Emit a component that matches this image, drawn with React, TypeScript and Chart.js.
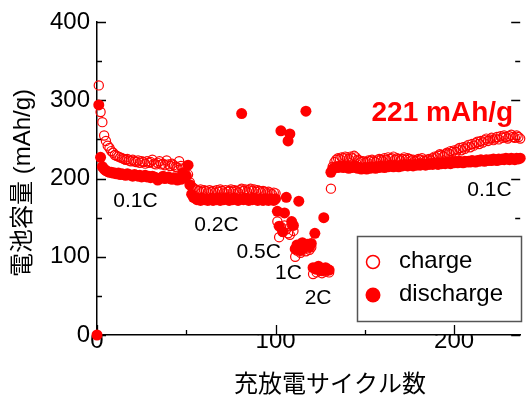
import { useEffect, useRef } from 'react';
import { Chart, registerables } from 'chart.js';

Chart.register(...registerables);

// ---- data (capacity in mAh/g per cycle) ----
const chargeStartCycle = 1;
const dischargeStartCycle = 0;

// 0.1C, cycles 1-50
const charge01a = [319, 285, 272, 255, 248, 242, 239, 235, 233, 230, 229, 228, 227, 226, 225, 224, 225, 223, 222, 224, 222, 221, 223, 220, 222, 221, 219, 222, 220, 221, 224, 219, 218, 220, 222, 218, 219, 217, 223, 218, 216, 219, 217, 215, 214, 222, 216, 213, 208, 204];
// 0.1C, cycles 0-50
const discharge01a = [0, 294, 227, 215, 212, 210, 209, 208, 208, 207, 207, 206, 207, 205, 206, 205, 204, 206, 205, 204, 203, 205, 204, 203, 204, 202, 203, 204, 202, 203, 201, 203, 202, 201, 198, 200, 201, 203, 200, 201, 202, 200, 199, 201, 200, 198, 200, 199, 207, 204, 203];
// 0.2C, cycles 51-100
const charge02 = [205, 195, 190, 188, 186, 185, 184, 186, 183, 185, 184, 182, 185, 183, 184, 182, 185, 183, 186, 184, 182, 185, 183, 184, 186, 183, 185, 184, 182, 185, 187, 184, 186, 183, 185, 187, 184, 186, 183, 185, 184, 182, 184, 183, 181, 183, 182, 180, 182, 181];
const discharge02 = [217, 192, 180, 176, 175, 173, 174, 172, 175, 173, 174, 172, 173, 175, 172, 174, 173, 175, 172, 174, 173, 175, 174, 172, 174, 173, 175, 174, 172, 174, 283, 173, 175, 174, 172, 174, 173, 175, 174, 172, 174, 173, 172, 174, 173, 172, 174, 173, 172, 174];
// 0.5C, cycles 101-110
const charge05 = [145, 125, 138, 132, 140, 135, 130, 128, 141, 133];
const discharge05 = [158, 139, 261, 132, 156, 176, 248, 257, 145, 140];
// 1C, cycles 111-120
const charge1 = [100, 108, 112, 105, 110, 114, 107, 111, 109, 112];
const discharge1 = [110, 115, 171, 108, 118, 112, 286, 116, 113, 117];
// 2C, cycles 121-130
const charge2 = [78, 85, 80, 84, 82, 79, 83, 81, 84, 80];
const discharge2 = [86, 130, 84, 88, 85, 82, 150, 86, 84, 83];
// 0.1C, cycles 131-240
const charge01b = [
  187, 215, 221, 224, 226, 225, 227, 226, 228, 227,
  225, 228, 226, 229, 227, 224, 223, 221, 222, 220,
  221, 223, 222, 224, 222, 221, 223, 225, 224, 222,
  226, 224, 227, 225, 226, 228, 224, 226, 225, 223,
  225, 227, 224, 226, 225, 223, 224, 222, 223, 225,
  224, 226, 223, 222, 224, 225, 223, 226, 228, 227,
  229, 231, 230, 228, 231, 233, 232, 235, 234, 236,
  234, 237, 239, 236, 240, 238, 241, 243, 240, 244,
  242, 245, 247, 244, 248, 246, 249, 251, 248, 250,
  252, 249, 251, 253, 250, 254, 252, 255, 253, 251,
  254, 256, 253, 252, 255, 253, 251, 254, 252, 253,
];
const discharge01b = [
  208, 212, 214, 215, 214, 216, 215, 214, 216, 215,
  213, 215, 214, 216, 215, 213, 214, 212, 213, 214,
  212, 214, 213, 215, 214, 213, 215, 214, 216, 215,
  214, 216, 215, 217, 216, 215, 217, 216, 215, 217,
  216, 218, 217, 216, 218, 217, 216, 218, 217, 218,
  217, 219, 218, 217, 219, 218, 219, 218, 220, 219,
  218, 220, 219, 220, 219, 221, 220, 219, 221, 220,
  221, 220, 222, 221, 220, 222, 221, 222, 221, 223,
  222, 221, 223, 222, 224, 223, 222, 224, 223, 224,
  223, 225, 224, 223, 225, 224, 225, 224, 226, 225,
  224, 226, 225, 224, 226, 225, 226, 225, 224, 226,
];

const chargeBlocks = [charge01a, charge02, charge05, charge1, charge2, charge01b];
const dischargeBlocks = [discharge01a, discharge02, discharge05, discharge1, discharge2, discharge01b];

// rate labels and their anchor (data coordinates)
const rateLabels = ['0.1C', '0.2C', '0.5C', '1C', '2C', '0.1C'];
const rateLabelX = [21.5, 66.9, 90.6, 107.2, 123.8, 219.8];
const rateLabelY = [171, 140.6, 106, 79, 47, 185];
const highlightText = '221 mAh/g';
const highlightAt = [193.4, 283.7];

const legendLabels = ['charge', 'discharge'];
const xTitle = '充放電サイクル数';
const yTitle = '電池容量 (mAh/g)';

const X_MIN = 0;
const X_MAX = 237;
const Y_MIN = 0;
const Y_MAX = 400;

const RED = '#ff0000';
const FONT = "'Liberation Sans', Arial, sans-serif";
const CJK_FONT = "'Liberation Sans', 'Noto Sans CJK JP', sans-serif";

function toPoints(start: number, blocks: number[][]) {
  const out: { x: number; y: number }[] = [];
  let c = start;
  for (const b of blocks) {
    for (const v of b) {
      out.push({ x: c, y: v });
      c++;
    }
  }
  return out;
}

const decorPlugin = {
  id: 'decor',
  beforeDatasetsDraw(chart: any) {
    const { ctx, chartArea, scales } = chart;
    const xs = scales.x;
    const ys = scales.y;
    ctx.save();
    ctx.strokeStyle = '#000';
    ctx.lineWidth = 1.3;
    ctx.beginPath();
    for (let v = 0; v <= 200; v += 50) {
      const px = Math.round(xs.getPixelForValue(v)) + 0.5;
      const len = v % 100 === 0 ? 10 : 5;
      ctx.moveTo(px, chartArea.bottom);
      ctx.lineTo(px, chartArea.bottom - len);
    }
    for (let v = 0; v <= 400; v += 50) {
      const py = Math.round(ys.getPixelForValue(v)) + 0.5;
      const len = v % 100 === 0 ? 9 : 5;
      ctx.moveTo(chartArea.left, py);
      ctx.lineTo(chartArea.left + len, py);
      ctx.moveTo(chartArea.right, py);
      ctx.lineTo(chartArea.right - len, py);
    }
    ctx.stroke();
    ctx.restore();
  },
  afterDraw(chart: any) {
    const { ctx, scales } = chart;
    const xs = scales.x;
    const ys = scales.y;
    ctx.save();
    // rate labels
    ctx.fillStyle = '#000';
    ctx.font = `21px ${FONT}`;
    ctx.textAlign = 'center';
    ctx.textBaseline = 'middle';
    rateLabels.forEach((t, i) => {
      ctx.fillText(t, xs.getPixelForValue(rateLabelX[i]), ys.getPixelForValue(rateLabelY[i]));
    });
    // highlight
    ctx.fillStyle = RED;
    ctx.font = `bold 28px ${FONT}`;
    ctx.fillText(highlightText, xs.getPixelForValue(highlightAt[0]), ys.getPixelForValue(highlightAt[1]));

    // axis titles
    ctx.fillStyle = '#000';
    ctx.font = `24px ${CJK_FONT}`;
    ctx.fillText(xTitle, 330, 385);
    ctx.save();
    ctx.translate(23, 183);
    ctx.rotate(-Math.PI / 2);
    ctx.fillText(yTitle, 0, 0);
    ctx.restore();

    // legend
    const bx = 357.5, by = 236.5, bw = 164, bh = 85;
    ctx.fillStyle = '#fff';
    ctx.fillRect(bx, by, bw, bh);
    ctx.strokeStyle = '#555';
    ctx.lineWidth = 1.5;
    ctx.strokeRect(bx, by, bw, bh);
    ctx.strokeStyle = RED;
    ctx.lineWidth = 1.5;
    ctx.beginPath();
    ctx.arc(373, 262, 6.5, 0, Math.PI * 2);
    ctx.stroke();
    ctx.fillStyle = RED;
    ctx.beginPath();
    ctx.arc(373, 295, 7.5, 0, Math.PI * 2);
    ctx.fill();
    ctx.fillStyle = '#000';
    ctx.font = `24px ${FONT}`;
    ctx.textAlign = 'left';
    ctx.fillText(legendLabels[0], 399, 261);
    ctx.fillText(legendLabels[1], 399, 294);
    ctx.restore();
  },
};

export default function App() {
  const ref = useRef<HTMLCanvasElement | null>(null);
  useEffect(() => {
    document.body.style.margin = '0';
    const canvas = ref.current;
    if (!canvas) return;
    const chart = new Chart(canvas, {
      type: 'scatter',
      data: {
        datasets: [
          {
            label: legendLabels[1],
            data: toPoints(dischargeStartCycle, dischargeBlocks),
            pointStyle: 'circle',
            pointRadius: 5.5,
            pointBackgroundColor: RED,
            pointBorderColor: RED,
            pointBorderWidth: 0,
            showLine: false,
            clip: false,
            order: 0,
          },
          {
            label: legendLabels[0],
            data: toPoints(chargeStartCycle, chargeBlocks),
            pointStyle: 'circle',
            pointRadius: 4.6,
            pointBackgroundColor: 'rgba(0,0,0,0)',
            pointBorderColor: RED,
            pointBorderWidth: 1.2,
            showLine: false,
            clip: false,
            order: 1,
          },
        ],
      },
      options: {
        responsive: false,
        animation: false,
        devicePixelRatio: 1,
        layout: { padding: { top: 22, right: 0, left: 0, bottom: 0 } },
        plugins: {
          legend: { display: false },
          tooltip: { enabled: false },
        },
        scales: {
          x: {
            type: 'linear',
            min: X_MIN,
            max: X_MAX,
            grid: { display: false, drawTicks: false },
            border: { display: true, color: '#000', width: 1.5 },
            ticks: {
              stepSize: 100,
              includeBounds: false,
              padding: -8,
              color: '#000',
              font: { size: 24, family: FONT },
              maxRotation: 0,
            },
            afterFit: (s: any) => {
              s.height = 61;
            },
          },
          y: {
            type: 'linear',
            min: Y_MIN,
            max: Y_MAX,
            grid: { display: false, drawTicks: false },
            border: { display: true, color: '#000', width: 1.5 },
            ticks: {
              stepSize: 100,
              padding: 7,
              color: '#000',
              font: { size: 24, family: FONT },
            },
            afterFit: (s: any) => {
              s.width = 97;
            },
          },
        },
      },
      plugins: [decorPlugin],
    });
    return () => chart.destroy();
  }, []);
  return (
    <div style={{ width: 526, height: 396, position: 'relative', overflow: 'hidden' }}>
      <canvas ref={ref} width={526} height={396} style={{ display: 'block' }} />
    </div>
  );
}
